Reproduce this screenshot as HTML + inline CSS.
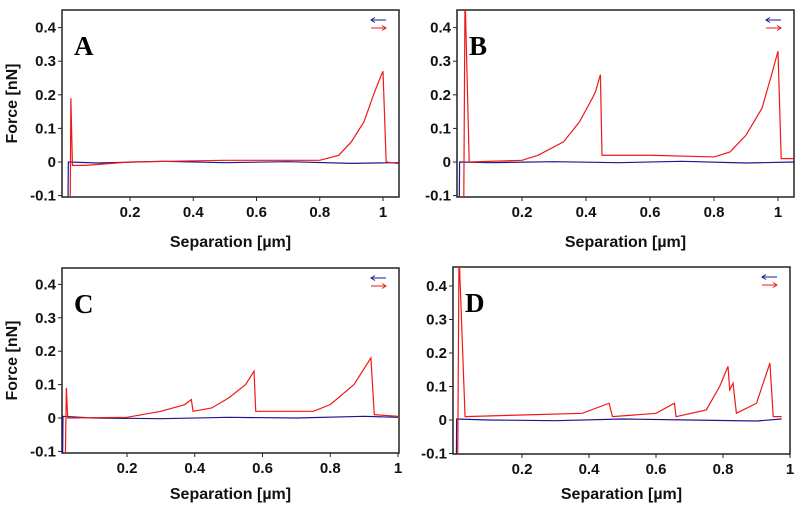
<!DOCTYPE html>
<html><head><meta charset="utf-8"><style>
body{margin:0;background:#fff;width:795px;height:506px;overflow:hidden}
svg{display:block;font-family:"Liberation Sans",Arial,sans-serif}
</style></head><body>
<svg id="c" width="795" height="506"></svg>
<script>
const yTicks=[0.4,0.3,0.2,0.1,0,-0.1];
const xTicks=[0.2,0.4,0.6,0.8,1];
const yTickLabels=["0.4","0.3","0.2","0.1","0","-0.1"];
const xTickLabels=["0.2","0.4","0.6","0.8","1"];
const panelLetters=["A","B","C","D"];
const redXA=[0.011,0.013,0.018,0.06,0.2,0.5,0.8,0.86,0.9,0.94,0.97,0.995,1.0,1.01,1.05];
const redYA=[-0.12,0.19,-0.01,-0.01,0,0.005,0.005,0.02,0.06,0.12,0.2,0.26,0.27,0,-0.005];
const blueXA=[0.004,0.005,0.1,0.3,0.5,0.7,0.9,1.05];
const blueYA=[-0.12,0,-0.003,0.002,-0.002,0.001,-0.004,-0.002];
const redXB=[0.018,0.022,0.035,0.2,0.25,0.33,0.38,0.42,0.43,0.445,0.45,0.6,0.8,0.85,0.9,0.95,0.98,1.0,1.01,1.05];
const redYB=[-0.12,0.5,0.0,0.005,0.02,0.06,0.12,0.19,0.21,0.26,0.02,0.02,0.015,0.03,0.08,0.16,0.26,0.33,0.01,0.01];
const blueXB=[0.004,0.005,0.1,0.3,0.5,0.7,0.9,1.05];
const blueYB=[-0.12,0,-0.002,0.001,-0.002,0.002,-0.003,0];
const redXC=[0.018,0.021,0.025,0.2,0.3,0.37,0.39,0.395,0.45,0.5,0.55,0.575,0.58,0.75,0.8,0.87,0.92,0.93,1.0];
const redYC=[-0.12,0.09,0,0.002,0.02,0.04,0.055,0.02,0.03,0.06,0.1,0.14,0.02,0.02,0.04,0.1,0.18,0.01,0.005];
const blueXC=[0.01,0.011,0.1,0.3,0.5,0.7,0.9,1.0];
const blueYC=[-0.12,0.005,0,-0.002,0.002,0,0.005,0.002];
const redXD=[0.008,0.012,0.03,0.2,0.38,0.46,0.47,0.6,0.655,0.66,0.75,0.79,0.815,0.82,0.83,0.84,0.9,0.94,0.95,0.975];
const redYD=[-0.13,0.5,0.01,0.015,0.02,0.05,0.01,0.02,0.05,0.01,0.03,0.1,0.16,0.09,0.11,0.02,0.05,0.17,0.01,0.01];
const blueXD=[0.004,0.005,0.1,0.3,0.5,0.7,0.9,0.975];
const blueYD=[-0.13,0.003,0,-0.002,0.003,0,-0.003,0.003];
const redX=[redXA,redXB,redXC,redXD],redY=[redYA,redYB,redYC,redYD];
const blueX=[blueXA,blueXB,blueXC,blueXD],blueY=[blueYA,blueYB,blueYC,blueYD];
const L=[{l:62,t:10,r:399,b:197,x0:66.75,sx:316.25,y0:162,sy:336,tt:50},
{l:457,t:10,r:794,b:197,x0:458,sx:320,y0:162,sy:336,tt:50},
{l:62,t:268,r:399,b:453,x0:59.25,sx:338.75,y0:418,sy:334,tt:46},
{l:453,t:267,r:790,b:454,x0:455,sx:335,y0:420,sy:335,tt:45}];
const NS="http://www.w3.org/2000/svg",svg=document.getElementById('c');
function mk(t,a,p){const e=document.createElementNS(NS,t);for(const k in a)e.setAttribute(k,a[k]);(p||svg).appendChild(e);return e;}
L.forEach((g,i)=>{
 const G=mk('g',{});
 
 
 const X=v=>g.x0+v*g.sx, Y=v=>g.y0-v*g.sy;
 const cp='cp'+i;
 const cl=mk('clipPath',{id:cp},G);mk('rect',{x:g.l,y:g.t,width:g.r-g.l,height:g.b-g.t},cl);
 const box=mk('rect',{x:g.l,y:g.t,width:g.r-g.l,height:g.b-g.t,fill:'none',stroke:'#222','stroke-width':1.5},G);
 
 yTicks.forEach((v,k)=>{
  mk('line',{x1:g.l-4,x2:g.l,y1:Y(v),y2:Y(v),stroke:'#222'},G);
  const t=mk('text',{x:g.l-6,y:Y(v)+5,'text-anchor':'end','font-size':15,'font-weight':'bold',fill:'#111'},G);
  t.textContent=yTickLabels[k];
  
 });
 xTicks.forEach((v,k)=>{
  mk('line',{x1:X(v),x2:X(v),y1:g.b,y2:g.b+4,stroke:'#222'},G);
  const t=mk('text',{x:X(v),y:g.b+20,'text-anchor':'middle','font-size':15,'font-weight':'bold',fill:'#111'},G);
  t.textContent=xTickLabels[k];
  
 });
 const xt=mk('text',{x:(g.l+g.r)/2,y:g.b+g.tt,'text-anchor':'middle','font-size':16,'font-weight':'bold',fill:'#111'},G);
 xt.textContent='Separation [µm]';
 
 if(i%2==0){
  const yt=mk('text',{x:0,y:0,transform:`translate(17,${(g.t+g.b)/2}) rotate(-90)`,'text-anchor':'middle','font-size':16,'font-weight':'bold',fill:'#111'},G);
  yt.textContent='Force [nN]';
  
 }
 const lt=mk('text',{x:g.l+12,y:g.t+45,'font-size':27,'font-weight':'bold','font-family':'"Liberation Serif",serif',fill:'#000'},G);
 lt.textContent=panelLetters[i];
 
 const pb=mk('polyline',{points:blueX[i].map((x,k)=>X(x)+','+Y(blueY[i][k])).join(' '),fill:'none',stroke:'#1a1a8c','stroke-width':1.2,'clip-path':`url(#${cp})`},G);
 
 const pr=mk('polyline',{points:redX[i].map((x,k)=>X(x)+','+Y(redY[i][k])).join(' '),fill:'none',stroke:'#f01818','stroke-width':1.2,'clip-path':`url(#${cp})`},G);
 
 const lx=g.r-28,ly=g.t+10;
 const lg=mk('g',{},G);
 
 mk('line',{x1:lx,x2:lx+15,y1:ly,y2:ly,stroke:'#1a1a8c'},lg);
 mk('path',{d:`M${lx+4},${ly-2.5}L${lx},${ly}L${lx+4},${ly+2.5}`,fill:'none',stroke:'#1a1a8c'},lg);
 mk('line',{x1:lx,x2:lx+15,y1:ly+8,y2:ly+8,stroke:'#f01818'},lg);
 mk('path',{d:`M${lx+11},${ly+5.5}L${lx+15},${ly+8}L${lx+11},${ly+10.5}`,fill:'none',stroke:'#f01818'},lg);
});
</script>
</body></html>
